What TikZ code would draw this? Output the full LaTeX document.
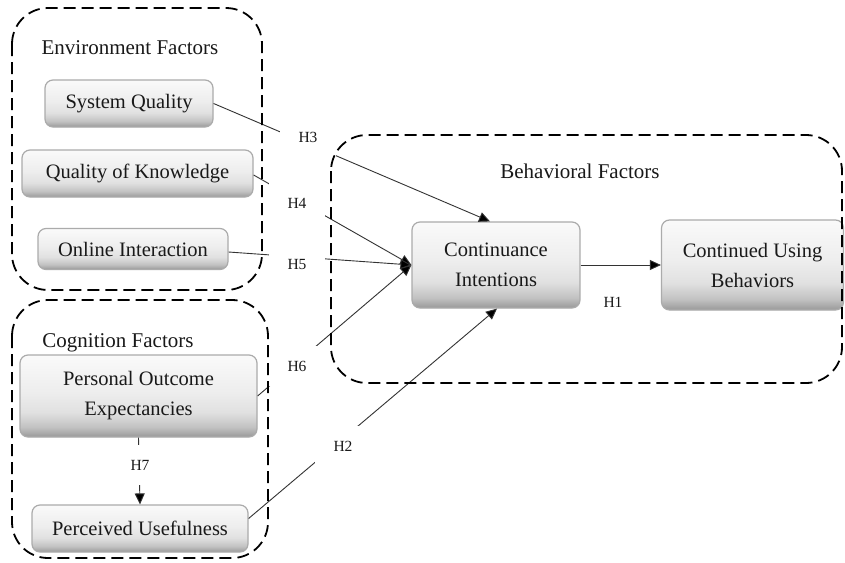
\documentclass[tikz,border=0pt]{standalone}
\usepackage{fontspec}
\setmainfont{Liberation Serif}
\usetikzlibrary{arrows.meta}
\pgfdeclareverticalshading{boxshade}{100bp}{color(0bp)=(black!40); color(25bp)=(black!40); color(31bp)=(black!24); color(40bp)=(black!12); color(52bp)=(black!7); color(75bp)=(black!2); color(100bp)=(black!2)}
\begin{document}
\begin{tikzpicture}[x=1pt,y=-1pt,
  factor/.style={draw=black!33, line width=1.2pt, rounded corners=8pt,
    shading=boxshade,
    align=center, font=\fontsize{20.5}{30}\selectfont, text=black!90, inner sep=0pt},
  group/.style={draw=black, line width=1.8pt, dash pattern=on 12pt off 6pt, rounded corners=36pt},
  title/.style={font=\fontsize{21}{24}\selectfont, inner sep=0pt, text=black!90},
  hyp/.style={draw=black!80, line width=0.9pt, -{Triangle[length=11pt,width=10pt,fill=black]}},
  hlabel/.style={fill=white, minimum width=56pt, minimum height=40pt,
    font=\fontsize{15.5}{18}\selectfont, inner sep=0pt, text=black!90},
]
\fill[white] (0,0) rectangle (845,562);
\useasboundingbox (0,0) rectangle (845,562);

% factor boxes
\node[factor, minimum width=168pt, minimum height=47pt] (sq) at (129,103.5) {System Quality};
\node[factor, minimum width=231pt, minimum height=47pt] (qk) at (137.5,173.5) {Quality of Knowledge};
\node[factor, minimum width=190pt, minimum height=41pt] (oi) at (133,249) {Online Interaction};
\node[factor, minimum width=237pt, minimum height=82pt] (po) at (138.5,396) {Personal Outcome\\Expectancies};
\node[factor, minimum width=216pt, minimum height=47pt] (pu) at (140,528.5) {Perceived Usefulness};
\node[factor, minimum width=168pt, minimum height=86pt] (ci) at (496,265) {Continuance\\Intentions};
\node[factor, minimum width=182pt, minimum height=90pt] (cub) at (752.5,265) {Continued Using\\Behaviors};

% connectors
\draw[hyp] (sq.east) -- ([xshift=-6pt]ci.north);
\draw[hyp] ([yshift=-1.5pt]qk.east) -- (ci.west);
\draw[hyp] ([yshift=-3pt]oi.east) -- (ci.west);
\draw[hyp] (po.east) -- (ci.west);
\draw[hyp] ([yshift=10pt]pu.east) -- ([xshift=1pt]ci.south);
\draw[hyp] (ci.east) -- (cub.west);
\draw[hyp] (po.south) -- (pu.north);

% hypothesis labels
\node[hlabel] (h3) at (308,137) {H3};
\node[hlabel] (h4) at (297,203) {H4};
\node[hlabel] (h5) at (297,264) {H5};
\node[hlabel] (h6) at (297,366) {H6};
\node[hlabel] (h2) at (343,446) {H2};
\node[hlabel] (h7) at (140,465) {H7};
\node[font=\fontsize{15.5}{18}\selectfont, inner sep=0pt, text=black!90] (h1) at (613,302) {H1};

% group titles
\node[title] (tenv) at (130,48) {Environment Factors};
\node[title] (tcog) at (118,343) {Cognition Factors};
\node[title] (tbeh) at (580,171) {Behavioral Factors};

% dashed groups
\draw[group] (12,8) rectangle (262,290);
\draw[group] (12,300) rectangle (268,558);
\draw[group] (331,135) rectangle (842,383);
\end{tikzpicture}
\end{document}
